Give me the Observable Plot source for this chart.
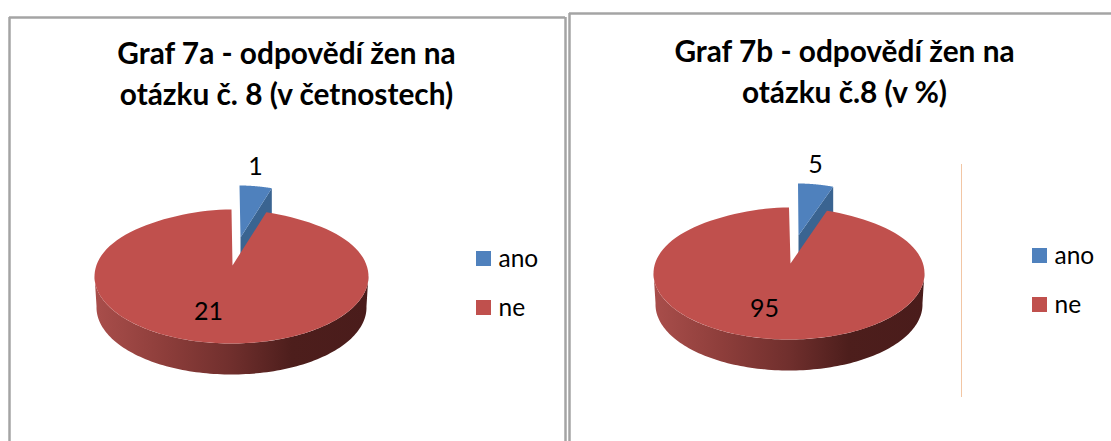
<!DOCTYPE html>
<html lang="cs">
<head>
<meta charset="utf-8">
<script src="https://cdn.jsdelivr.net/npm/d3@7"></script>
<script src="https://cdn.jsdelivr.net/npm/@observablehq/plot@0.6"></script>
<style>
html,body{margin:0;padding:0;background:#fff;overflow:hidden}
#wrap{position:relative;width:1111px;height:441px}
#wrap>svg{position:absolute;top:0;display:block}
</style>
</head>
<body>
<div id="wrap"></div>
<script>
// Data
const categories = ["ano", "ne"];
const valuesA = [1, 21];
const valuesB = [5, 95];
const titleA = ["Graf 7a - odpovědí žen na", "otázku č. 8 (v četnostech)"];
const titleB = ["Graf 7b - odpovědí žen na", "otázku č.8 (v %)"];
const sliceColors = ["#4f81bd", "#c0504d"];
const sideColor = "#3a6491";

const FONT = "Lato, Carlito, 'Open Sans', sans-serif";

function panel(cfg) {
  const {left, width, values, title, id} = cfg;
  const {cx, cy, rx, ry, depth, apexUp} = cfg.pie;
  const total = d3.sum(values);
  const gap = values[0] / total * 2 * Math.PI;   // the exploded slice's angle
  const k = 0.12;                                // perspective narrowing at the far edge
  const pt = (t, ox = 0, oy = 0, drx = 0) => {
    const c = Math.cos(t);
    const narrow = c > 0 ? 1 - k * Math.pow(c, 5) : 1;
    return {
      x: cx + ox + (rx + drx) * Math.sin(t) * narrow,
      y: cy + oy - ry * c
    };
  };
  const arc = (a, b, ox, oy, drx) => d3.range(0, 121).map(i => pt(a + (b - a) * i / 120, ox, oy, drx));

  const apex = {x: cx + cfg.apexDx, y: cy - apexUp};
  const {dx: bx, dy: by, apexDx: bax, apexDy: bay} = cfg.blue;
  const blueApex = {x: apex.x + bax, y: apex.y + bay};
  const blueCorner = pt(gap, bx, by, -10);

  const redTop = [apex, ...arc(gap, 2 * Math.PI)];
  const redSide = [...arc(Math.PI / 2 - 0.02, 3 * Math.PI / 2 + 0.02),
                   ...arc(3 * Math.PI / 2 + 0.02, Math.PI / 2 - 0.02, 0, depth, -2)];
  const blueTop = [blueApex, ...arc(0, gap, bx, by, -10)];
  const blueSide = [blueApex, blueCorner,
    {x: blueCorner.x, y: blueCorner.y + depth},
    {x: blueApex.x, y: blueApex.y + depth}];

  const gradient = () => {
    const defs = d3.create("svg:defs");
    const g = defs.append("linearGradient").attr("id", id).attr("x1", 0).attr("x2", 1).attr("y1", 0).attr("y2", 0);
    [[0, "#a94e4b"], [0.25, "#8e3e3b"], [0.5, "#702f2d"], [0.72, "#4d1e1c"], [1, "#4a1c1b"]]
      .forEach(([o, c]) => g.append("stop").attr("offset", o).attr("stop-color", c));
    return defs.node();
  };

  const poly = (pts, fill) => Plot.line(pts, {x: "x", y: "y", fill, stroke: "none", curve: "linear"});
  const txt = (s, x, y, size, opts = {}) => Plot.text([s], {
    x: () => x, y: () => y, text: d => d, fontSize: size, fontFamily: FONT, fill: "#000",
    lineAnchor: "bottom", ...opts
  });

  const f = cfg.frame;
  const frameMarks = [
    Plot.ruleY([f.top], {x1: f.left, x2: f.right, stroke: "#a4a4a4", strokeWidth: 2.5}),
    Plot.ruleX([f.left], {y1: f.top, y2: 441, stroke: "#a4a4a4", strokeWidth: 2.5})
  ];
  if (f.closed) frameMarks.push(Plot.ruleX([f.right], {y1: f.top, y2: 441, stroke: "#a4a4a4", strokeWidth: 2.5}));

  const lg = cfg.legend;
  const legendMarks = categories.flatMap((c, i) => [
    Plot.rect([c], {
      x1: () => lg.x, x2: () => lg.x + 15,
      y1: () => lg.ys[i], y2: () => lg.ys[i] + 15,
      fill: sliceColors[i], inset: 0
    }),
    txt(c, lg.x + 22, lg.ys[i] + 15, 24.5, {textAnchor: "start"})
  ]);

  return Plot.plot({
    width, height: 441,
    margin: 0,
    style: {background: "transparent"},
    x: {domain: [left, left + width], range: [0, width], axis: null},
    y: {domain: [0, 441], range: [0, 441], axis: null},
    marks: [
      gradient,
      ...frameMarks,
      ...(cfg.divider ? [Plot.ruleX([cfg.divider.x], {y1: cfg.divider.y1, y2: cfg.divider.y2, stroke: "#f2c6a4", strokeWidth: 1})] : []),
      poly(blueSide, sideColor),
      poly(blueTop, sliceColors[0]),
      poly(redSide, `url(#${id})`),
      poly(redTop, sliceColors[1]),
      txt(String(values[0]), cfg.lab[0][0], cfg.lab[0][1], 25),
      txt(String(values[1]), cfg.lab[1][0], cfg.lab[1][1], 25),
      txt(title[0], cfg.titleX, cfg.titleY[0], 29.8, {fontWeight: 700}),
      txt(title[1], cfg.titleX, cfg.titleY[1], 29.8, {fontWeight: 700}),
      ...legendMarks
    ]
  });
}

const wrap = document.getElementById("wrap");
const a = panel({
  id: "sideA", left: 0, width: 567, values: valuesA, title: titleA,
  pie: {cx: 231, cy: 276, rx: 137, ry: 67, depth: 31, apexUp: 11},
  apexDx: 1, blue: {dx: 8, dy: -24, apexDx: 8, apexDy: -28},
  frame: {left: 9, top: 17, right: 565, closed: true},
  lab: [[255, 174], [208, 319]],
  titleX: 286, titleY: [63, 104],
  legend: {x: 476, ys: [251, 300]}
});
a.style.left = "0px";
const b = panel({
  id: "sideB", left: 567, width: 544, values: valuesB, title: titleB,
  pie: {cx: 788.5, cy: 273, rx: 135.5, ry: 66, depth: 31, apexUp: 10},
  apexDx: 1.5, blue: {dx: 9, dy: -24, apexDx: 8, apexDy: -28},
  frame: {left: 569, top: 13, right: 1111, closed: false},
  divider: {x: 961, y1: 164, y2: 397},
  lab: [[815, 172], [764, 316]],
  titleX: 844, titleY: [61, 102],
  legend: {x: 1032, ys: [248, 297]}
});
b.style.left = "567px";
wrap.append(a, b);
</script>
</body>
</html>
